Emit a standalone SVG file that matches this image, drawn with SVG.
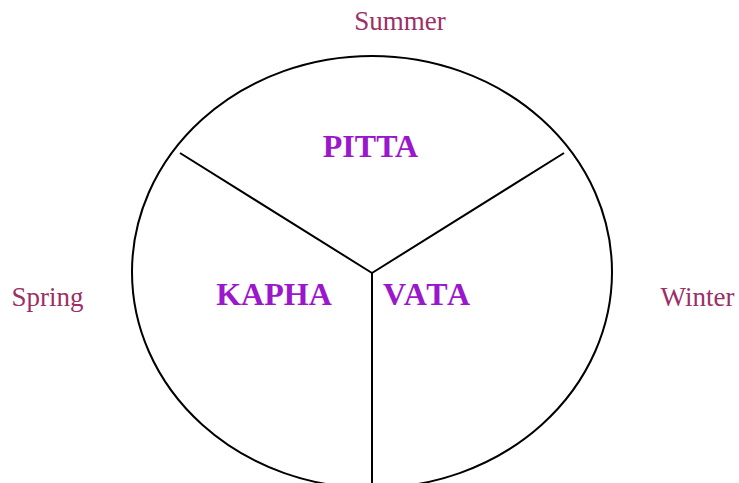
<svg xmlns="http://www.w3.org/2000/svg" width="739" height="483" viewBox="0 0 739 483">
<style>
.dosha{font-family:"Liberation Serif","Times New Roman",serif;font-weight:bold;font-size:32px;fill:#9b17cc}
.season{font-family:"Liberation Serif","Times New Roman",serif;font-size:27px;fill:#9b2f66}
.ln{stroke:#000;stroke-width:2;fill:none}
</style>
<rect width="739" height="483" fill="#fff"/>
<g id="circle"><ellipse class="ln" cx="372" cy="272" rx="240" ry="216"/></g>
<g id="connectors">
<line class="ln" x1="372" y1="273" x2="180" y2="153"/>
<line class="ln" x1="372" y1="273" x2="564" y2="153"/>
<line class="ln" x1="372" y1="273" x2="372" y2="483"/>
</g>
<g id="pitta"><text class="dosha" x="370.5" y="157" text-anchor="middle">PITTA</text></g>
<g id="kapha"><text class="dosha" x="274" y="305" text-anchor="middle">KAPHA</text></g>
<g id="vata"><text class="dosha" x="426.5" y="305" text-anchor="middle" textLength="87">VATA</text></g>
<g id="summer"><text class="season" x="400" y="30" text-anchor="middle">Summer</text></g>
<g id="spring"><text class="season" x="47.5" y="306" text-anchor="middle">Spring</text></g>
<g id="winter"><text class="season" x="697.5" y="306" text-anchor="middle">Winter</text></g>
</svg>
